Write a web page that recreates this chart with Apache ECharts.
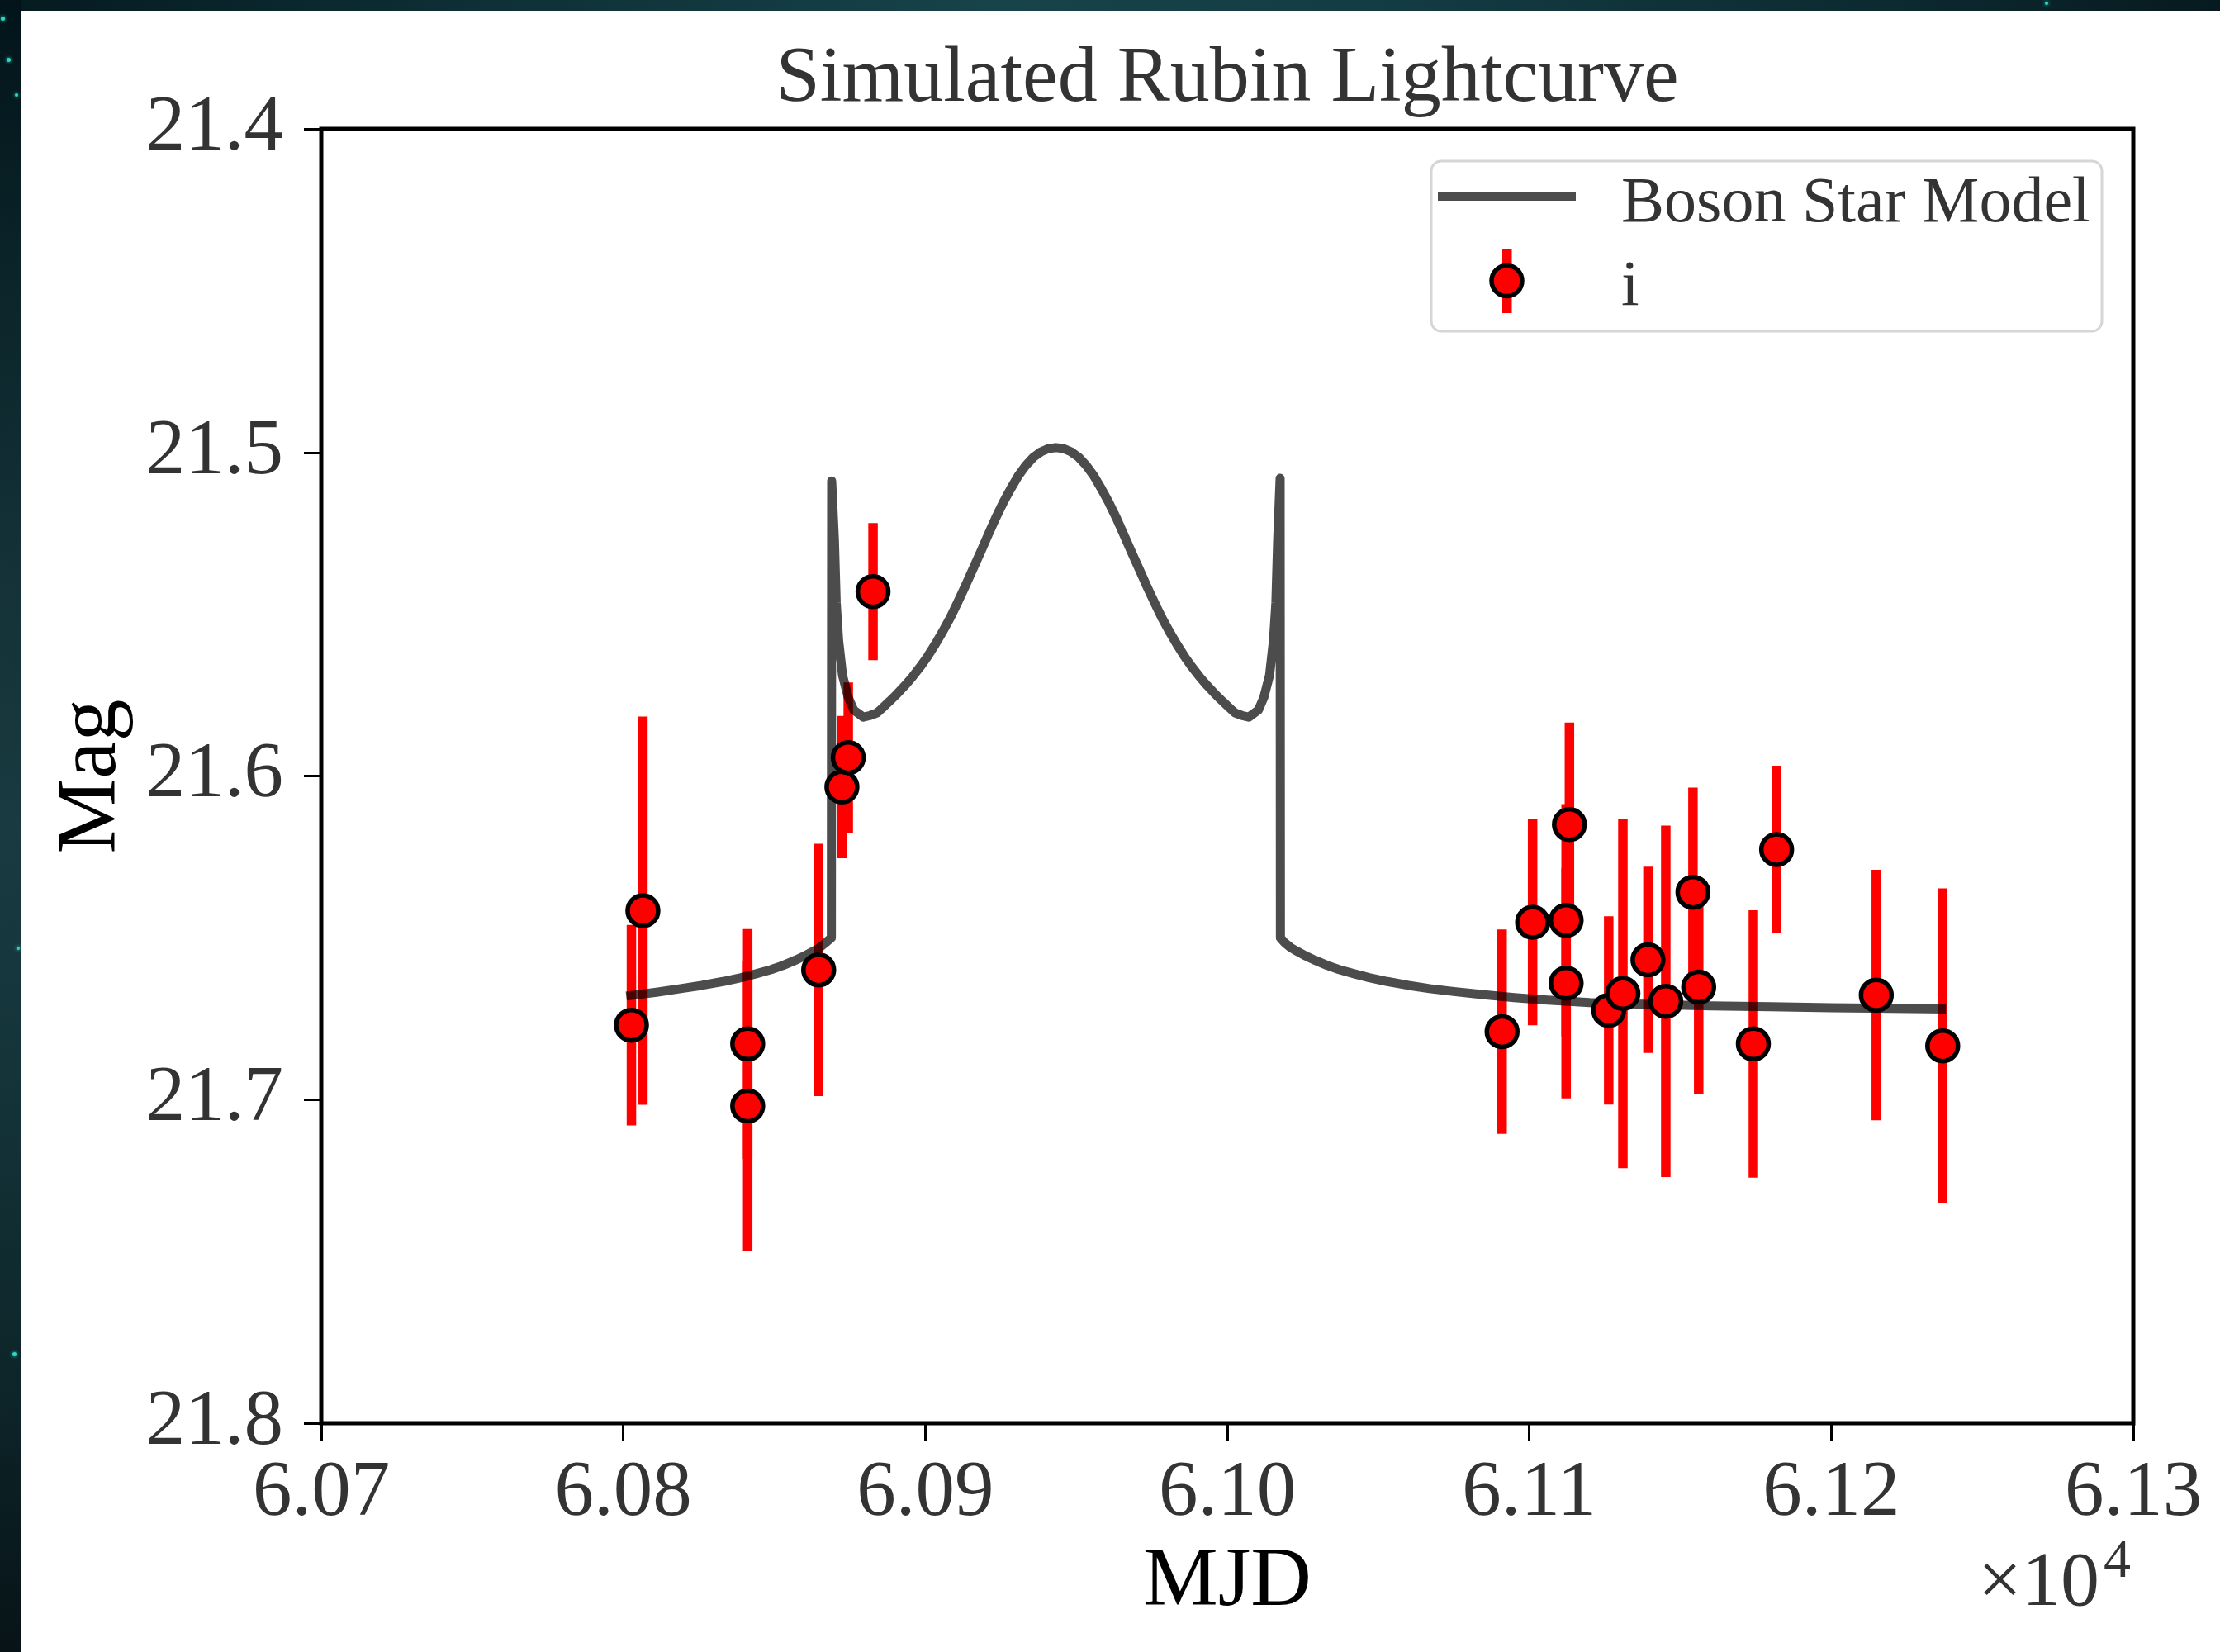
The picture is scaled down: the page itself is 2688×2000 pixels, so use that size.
<!DOCTYPE html>
<html>
<head>
<meta charset="utf-8">
<script src="https://cdn.jsdelivr.net/npm/echarts/dist/echarts.min.js"></script>
<style>
html,body{margin:0;padding:0;width:2688px;height:2000px;overflow:hidden;background:#0b2227;}
#topstrip{position:absolute;left:0;top:0;width:2688px;height:13px;background:linear-gradient(90deg,#041a1f 0%,#0d2e34 20%,#17434a 45%,#133a41 65%,#0c2a30 85%,#061a1f 100%);}
#leftstrip{position:absolute;left:0;top:0;width:25px;height:2000px;background:linear-gradient(180deg,#02141a 0%,#0a2328 15%,#143238 35%,#193a40 50%,#14343a 65%,#0d2428 85%,#071317 100%);}
.star{position:absolute;width:5px;height:5px;border-radius:50%;background:#2fd6c4;box-shadow:0 0 4px #2fd6c4;}
#paper{position:absolute;left:25px;top:13px;right:0;bottom:0;background:#ffffff;}
#chart{position:absolute;left:0;top:0;width:2688px;height:2000px;}
</style>
</head>
<body>
<div id="topstrip"></div>
<div id="leftstrip"></div>
<div class="star" style="left:1px;top:20px"></div>
<div class="star" style="left:8px;top:70px"></div>
<div class="star" style="left:18px;top:113px;width:4px;height:4px"></div>
<div class="star" style="left:20px;top:1146px;width:4px;height:4px"></div>
<div class="star" style="left:15px;top:1637px"></div>
<div class="star" style="left:2476px;top:2px;width:4px;height:4px"></div>
<div id="paper"></div>
<div id="chart"></div>
<script>
// ---- Model curve (Boson Star Model) ----
var modelMJD = [
  60801.0, 60811.0, 60819.0, 60826.0, 60833.0, 60839.0, 60844.0, 60849.0, 60853.0, 60857.0, 60860.0, 60863.0, 60865.0, 60867.0, 60868.9,
  60869.0, 60869.9, 60870.5, 60871.3, 60872.6, 60874.5, 60876.3, 60879.5, 60881.8,
  60884.0, 60885.8, 60888.3, 60890.8, 60893.3, 60895.8, 60898.3, 60900.8, 60903.3, 60905.8, 60908.3, 60910.8,
  60913.3, 60915.8, 60918.3, 60920.8, 60923.3, 60925.8, 60928.3, 60930.8, 60933.3, 60935.8, 60938.3, 60940.8,
  60943.3,
  60945.8, 60948.3, 60950.8, 60953.3, 60955.8, 60958.3, 60960.8, 60963.3, 60965.8, 60968.3, 60970.8, 60973.3,
  60975.8, 60978.3, 60980.8, 60983.3, 60985.8, 60988.3, 60990.8, 60993.3, 60995.8, 60998.3, 61000.8, 61002.6,
  61004.8, 61007.1, 61010.3, 61012.1, 61014.0, 61015.3, 61016.1, 61016.7, 61017.5,
  61017.6, 61019.0, 61021.0, 61023.0, 61026.0, 61029.0, 61033.0, 61037.0, 61042.0, 61047.0, 61053.0, 61060.0,
  61067.0, 61075.0, 61085.0, 61095.0, 61105.0, 61120.0, 61140.0, 61160.0, 61180.0, 61200.0, 61220.0, 61238.0
];
var modelMag = [
  21.6680, 21.6668, 21.6657, 21.6647, 21.6635, 21.6623, 21.6611, 21.6598, 21.6585, 21.6569, 21.6556, 21.6541, 21.6530, 21.6515, 21.6500,
  21.5088, 21.5269, 21.5464, 21.5581, 21.5689, 21.5757, 21.5796, 21.5818, 21.5813,
  21.5805, 21.5790, 21.5768, 21.5745, 21.5720, 21.5693, 21.5663, 21.5630, 21.5593, 21.5553, 21.5510, 21.5462,
  21.5412, 21.5360, 21.5308, 21.5255, 21.5203, 21.5155, 21.5112, 21.5072, 21.5040, 21.5015, 21.4998, 21.4988,
  21.4985,
  21.4988, 21.4998, 21.5015, 21.5040, 21.5072, 21.5112, 21.5155, 21.5203, 21.5255, 21.5308, 21.5360, 21.5412,
  21.5462, 21.5510, 21.5553, 21.5593, 21.5630, 21.5663, 21.5693, 21.5720, 21.5745, 21.5768, 21.5790, 21.5805,
  21.5813, 21.5818, 21.5796, 21.5757, 21.5689, 21.5581, 21.5464, 21.5269, 21.5080,
  21.6500, 21.6515, 21.6530, 21.6541, 21.6556, 21.6569, 21.6585, 21.6598, 21.6611, 21.6623, 21.6635, 21.6647,
  21.6657, 21.6666, 21.6676, 21.6685, 21.6692, 21.6700, 21.6706, 21.6710, 21.6713, 21.6716, 21.6718, 21.6720
];

// ---- Observations (i band) ----
var obsMJD = [60802.7, 60806.5, 60841.2, 60841.2, 60864.7, 60872.4, 60874.5, 60882.7,
  61091.0, 61101.1, 61112.2, 61112.2, 61113.3, 61126.3, 61131.0, 61139.3, 61145.2,
  61154.2, 61156.1, 61174.2, 61181.9, 61214.9, 61236.9];
var obsMag = [21.6770, 21.6416, 21.6828, 21.7020, 21.6599, 21.6034, 21.5943, 21.5430,
  21.6790, 21.6452, 21.6446, 21.6640, 21.6150, 21.6724, 21.6672, 21.6568, 21.6696,
  21.6359, 21.6652, 21.6828, 21.6227, 21.6677, 21.6834];
var obsErr = [0.0310, 0.0600, 0.0355, 0.0449, 0.0390, 0.0220, 0.0232, 0.0212,
  0.0316, 0.0318, 0.0359, 0.0356, 0.0315, 0.0291, 0.0540, 0.0288, 0.0543,
  0.0323, 0.0331, 0.0413, 0.0259, 0.0387, 0.0487];

// ---- Axes ----
var xTickValues = [60700, 60800, 60900, 61000, 61100, 61200, 61300];
var xTickLabels = ['6.07', '6.08', '6.09', '6.10', '6.11', '6.12', '6.13'];
var yTickValues = [21.4, 21.5, 21.6, 21.7, 21.8];
var yTickLabels = ['21.4', '21.5', '21.6', '21.7', '21.8'];

var FONT = "'Liberation Serif', 'Times New Roman', 'DejaVu Serif', serif";

var lineData = modelMJD.map(function (m, i) { return [m, modelMag[i]]; });
var pointData = obsMJD.map(function (m, i) { return [m, obsMag[i]]; });
var barData = obsMJD.map(function (m, i) { return [m, obsMag[i] - obsErr[i], obsMag[i] + obsErr[i]]; });

function nearestLabel(v, vals, labels) {
  for (var i = 0; i < vals.length; i++) {
    if (Math.abs(vals[i] - v) < 1e-6) return labels[i];
  }
  return '';
}

var chart = echarts.init(document.getElementById('chart'), null, { renderer: 'canvas' });
chart.setOption({
  backgroundColor: 'transparent',
  animation: false,
  grid: {
    left: 389, right: 105, top: 156, bottom: 277,
    show: true, borderColor: '#000000', borderWidth: 5, backgroundColor: 'transparent',
    containLabel: false, outerBoundsMode: 'none'
  },
  xAxis: {
    type: 'value', min: 60700, max: 61300, interval: 100,
    axisLine: { show: false },
    axisTick: { show: true, length: 21, lineStyle: { color: '#000', width: 3 } },
    splitLine: { show: false },
    axisLabel: {
      show: true, margin: 39, color: '#333333', fontFamily: FONT, fontSize: 95,
      showMinLabel: true, showMaxLabel: true,
      formatter: function (v) { return nearestLabel(v, xTickValues, xTickLabels); }
    }
  },
  yAxis: {
    type: 'value', min: 21.4, max: 21.8, interval: 0.1, inverse: true,
    axisLine: { show: false },
    axisTick: { show: true, length: 21, lineStyle: { color: '#000', width: 3 } },
    splitLine: { show: false },
    axisLabel: {
      show: true, margin: 46, color: '#333333', fontFamily: FONT, fontSize: 95,
      padding: [8, 0, 0, 0],
      showMinLabel: true, showMaxLabel: true,
      formatter: function (v) { return nearestLabel(v, yTickValues, yTickLabels); }
    }
  },
  series: [
    {
      name: 'i errors', type: 'custom', z: 2,
      data: barData,
      encode: { x: 0, y: [1, 2] },
      renderItem: function (params, api) {
        var x = api.value(0);
        var p1 = api.coord([x, api.value(1)]);
        var p2 = api.coord([x, api.value(2)]);
        var w = 11.5;
        return {
          type: 'rect',
          shape: { x: p1[0] - w / 2, y: Math.min(p1[1], p2[1]), width: w, height: Math.abs(p2[1] - p1[1]) },
          style: { fill: '#ff0000' }
        };
      }
    },
    {
      name: 'Boson Star Model', type: 'line', z: 3,
      data: lineData, showSymbol: false, symbol: 'none', smooth: false,
      lineStyle: { color: 'rgba(0,0,0,0.7)', width: 11, join: 'round', cap: 'butt' }
    },
    {
      name: 'i', type: 'scatter', z: 4,
      data: pointData, symbol: 'circle', symbolSize: 37,
      itemStyle: { color: '#ff0000', borderColor: '#000000', borderWidth: 5.5, opacity: 1 }
    }
  ],
  graphic: [
    { type: 'text', x: 1486, y: 97, z: 10,
      style: { text: 'Simulated Rubin Lightcurve', fontFamily: FONT, fontSize: 96, fill: '#333333', align: 'center', verticalAlign: 'middle' } },
    { type: 'text', x: 1486, y: 1916, z: 10,
      style: { text: 'MJD', fontFamily: FONT, fontSize: 102, fill: '#000000', align: 'center', verticalAlign: 'middle' } },
    { type: 'text', x: 112, y: 940, rotation: Math.PI / 2, z: 10,
      style: { text: 'Mag', fontFamily: FONT, fontSize: 102, fill: '#000000', align: 'center', verticalAlign: 'middle' } },
    { type: 'text', x: 2542, y: 1918, z: 10,
      style: { text: '×10', fontFamily: FONT, fontSize: 94, fill: '#333333', align: 'right', verticalAlign: 'middle' } },
    { type: 'text', x: 2547, y: 1892, z: 10,
      style: { text: '4', fontFamily: FONT, fontSize: 66, fill: '#333333', align: 'left', verticalAlign: 'middle' } },
    // legend
    { type: 'rect', z: 10, shape: { x: 1733, y: 195, width: 812, height: 206, r: 12 },
      style: { fill: 'rgba(255,255,255,0.8)', stroke: '#d6d6d6', lineWidth: 3 } },
    { type: 'line', z: 11, shape: { x1: 1741, y1: 237.5, x2: 1908, y2: 237.5 },
      style: { stroke: 'rgba(0,0,0,0.7)', lineWidth: 11 } },
    { type: 'text', x: 1963, y: 248, z: 11,
      style: { text: 'Boson Star Model', fontFamily: FONT, fontSize: 78, fill: '#333333', align: 'left', verticalAlign: 'middle' } },
    { type: 'rect', z: 11, shape: { x: 1819, y: 302, width: 11.5, height: 77 }, style: { fill: '#ff0000' } },
    { type: 'circle', z: 12, shape: { cx: 1824.5, cy: 340, r: 18.5 },
      style: { fill: '#ff0000', stroke: '#000000', lineWidth: 5.5 } },
    { type: 'text', x: 1963, y: 349, z: 11,
      style: { text: 'i', fontFamily: FONT, fontSize: 78, fill: '#333333', align: 'left', verticalAlign: 'middle' } }
  ]
});
</script>
</body>
</html>
